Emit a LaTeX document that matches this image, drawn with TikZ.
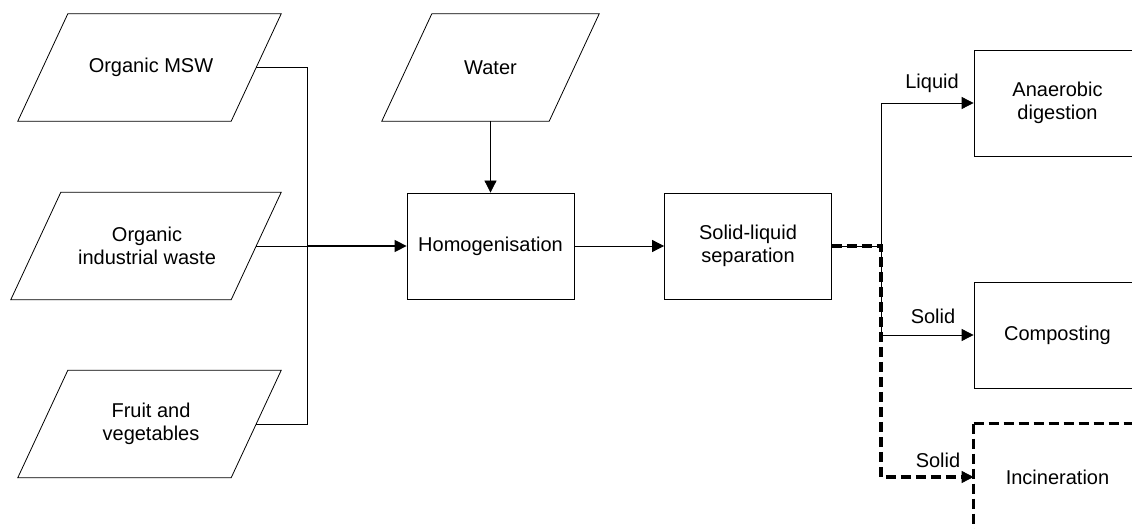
\documentclass[tikz,border=0pt]{standalone}
\usepackage{fontspec}
\setmainfont{Liberation Sans}
\usetikzlibrary{arrows.meta}
\begin{document}
\begin{tikzpicture}[x=1pt,y=-1pt,
  every node/.style={font=\fontsize{20}{23}\selectfont, align=center, inner sep=0pt},
  box/.style={draw, line width=0.8pt, minimum width=167pt, minimum height=106pt},
  para/.style={minimum height=107pt},
  thinline/.style={line width=0.8pt},
  conn/.style={line width=0.8pt, -{Triangle[length=12pt,width=12pt]}},
  thickdash/.style={line width=2.8pt, dash pattern=on 10pt off 5pt}
]
\clip (0,0) rectangle (1132,529);
\fill[white] (0,0) rectangle (1132,529);

% input parallelograms
\node[para, minimum width=213pt] (msw) at (151,67.5) {Organic MSW};
\node[para, minimum width=220pt] (ind) at (147,246) {Organic\\industrial waste};
\node[para, minimum width=213pt] (fruit) at (151,424) {Fruit and\\vegetables};
\node[para, minimum width=167pt] (water) at (490.5,67.5) {Water};
\foreach \n/\dx in {msw/1.5,ind/1,fruit/1.5,water/0}
  \draw[thinline] ([xshift=25pt-\dx pt]\n.north west) -- ([xshift=25pt-\dx pt]\n.north east)
     -- ([xshift=-25pt-\dx pt]\n.south east) -- ([xshift=-25pt-\dx pt]\n.south west) -- cycle;

% process boxes
\node[box] (hom) at (490.5,246) {Homogenisation};
\node[box] (sl) at (748,246) {Solid-liquid\\separation};
\node[box] (ana) at (1057.5,103) {Anaerobic\\digestion};
\node[box] (comp) at (1057.5,335) {Composting};
\node[box, draw=none] (inc) at (1057.5,477) {Incineration};
\draw[thickdash] (inc.north west) -- (inc.north east);
\draw[thickdash] (inc.north west) -- (inc.south west);

% connectors on the input side
\coordinate (jin) at (307,246);
\draw[thinline] ([xshift=-1.5pt]msw.east) -| (jin);
\draw[thinline] ([xshift=-1.5pt]fruit.east) -| (jin);
\draw[thinline] ([xshift=-1pt]ind.east) -- (jin);
\draw[conn, line width=1.5pt] (jin) -- (hom.west);
\draw[conn] (water.south) -- (hom.north);
\draw[conn] (hom.east) -- (sl.west);

% connectors on the output side
\coordinate (jout) at (881,246);
\coordinate (jinc) at (962,477);
\draw[thinline] (sl.east) -- (jout);
\draw[conn] (jout) |- (ana.west);
\draw[conn] (jout) |- (comp.west);
\draw[thickdash, line width=3.2pt, line join=miter] (sl.east) -- (jout) -- (jout |- jinc) -- (jinc);
\draw[conn] (jinc) -- (inc.west);

% labels
\node (lliq) at (932,83) {Liquid};
\node (lsol1) at (933,316) {Solid};
\node (lsol2) at (938,460) {Solid};
\end{tikzpicture}
\end{document}
